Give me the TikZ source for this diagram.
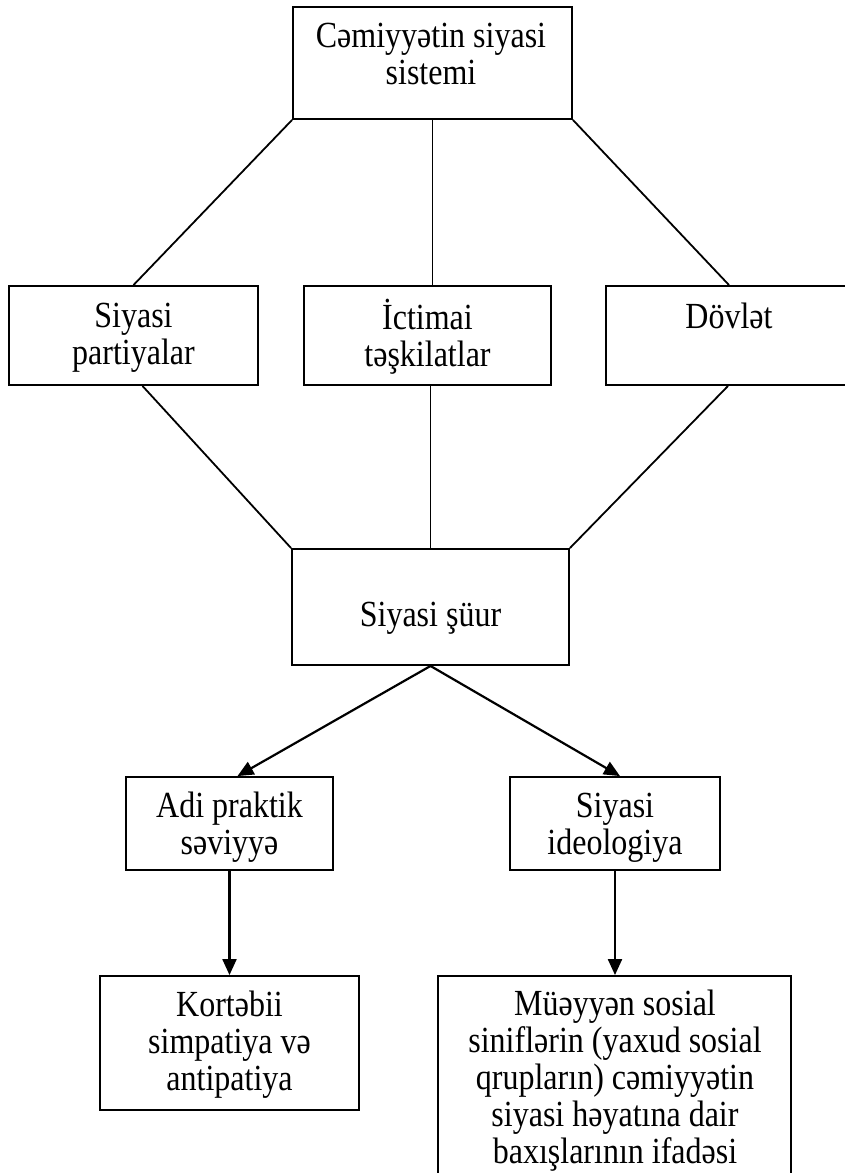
\documentclass[tikz,border=0pt]{standalone}
\usepackage{fontspec}
\usepackage{graphicx}
\setmainfont{Liberation Serif}
\usetikzlibrary{arrows.meta,calc}
\newcommand{\tx}[1]{\scalebox{1}[1.15]{\fontsize{32}{32}\selectfont\begin{tabular}{@{}c@{}}#1\end{tabular}}}
\begin{document}
\begin{tikzpicture}[x=1pt,y=-1pt,
  box/.style={draw,line width=1.9pt,rectangle,inner sep=0pt},
  lbl/.style={inner sep=0pt},
  link/.style={line width=1.8pt},
  arr/.style={line width=2.2pt,-{Triangle[length=16pt,width=14pt]}}]
\useasboundingbox[fill=white] (0,0) rectangle (845,1173);
\clip (0,0) rectangle (845,1173);
% boxes
\node[box,minimum width=279pt,minimum height=112pt] (top) at (432.5,63) {};
\node[box,minimum width=249pt,minimum height=99pt] (part) at (133.5,335.5) {};
\node[box,minimum width=247pt,minimum height=99pt] (icti) at (427.5,335.5) {};
\node[box,minimum width=246pt,minimum height=99pt] (dovl) at (729,335.5) {};
\node[box,minimum width=277pt,minimum height=116pt] (shur) at (430.5,607) {};
\node[box,minimum width=207pt,minimum height=93pt] (adi) at (229.5,823.5) {};
\node[box,minimum width=210pt,minimum height=93pt] (ideo) at (615,823.5) {};
\node[box,minimum width=259pt,minimum height=134pt] (kort) at (229.5,1043) {};
\node[box,minimum width=353pt,minimum height=220pt] (muey) at (614.5,1086) {};
% texts
\node[lbl] (topT) at (431,59) {\tx{Cəmiyyətin siyasi\\sistemi}};
\node[lbl] (partT) at (133.5,339) {\tx{Siyasi\\partiyalar}};
\node[lbl] (ictiT) at (427.5,338) {\tx{İctimai\\təşkilatlar}};
\node[lbl] (dovlT) at (729,321) {\tx{Dövlət}};
\node[lbl] (shurT) at (430.5,619) {\tx{Siyasi şüur}};
\node[lbl] (adiT) at (229.5,829) {\tx{Adi praktik\\səviyyə}};
\node[lbl] (ideoT) at (615,829) {\tx{Siyasi\\ideologiya}};
\node[lbl] (kortT) at (229.5,1046) {\tx{Kortəbii\\simpatiya və\\antipatiya}};
\node[lbl] (mueyT) at (615,1082) {\tx{Müəyyən sosial\\siniflərin (yaxud sosial\\qrupların) cəmiyyətin\\siyasi həyatına dair\\baxışlarının ifadəsi}};
% connectors
\draw[link] (top.south west) -- (part.north);
\draw[link] (top.south) -- (top.south |- icti.north);
\draw[link] (top.south east) -- (dovl.north);
\draw[link] ($(part.south)+(9,0)$) -- (shur.north west);
\draw[link] (shur.north |- icti.south) -- (shur.north);
\draw[link] ($(dovl.south)+(-1,0)$) -- (shur.north east);
\draw[arr] (shur.south) -- ($(adi.north)+(8,0)$);
\draw[arr] (shur.south) -- ($(ideo.north)+(5,0)$);
\draw[arr] (adi.south) -- (adi.south |- kort.north);
\draw[arr] (ideo.south) -- (ideo.south |- muey.north);
\end{tikzpicture}
\end{document}
